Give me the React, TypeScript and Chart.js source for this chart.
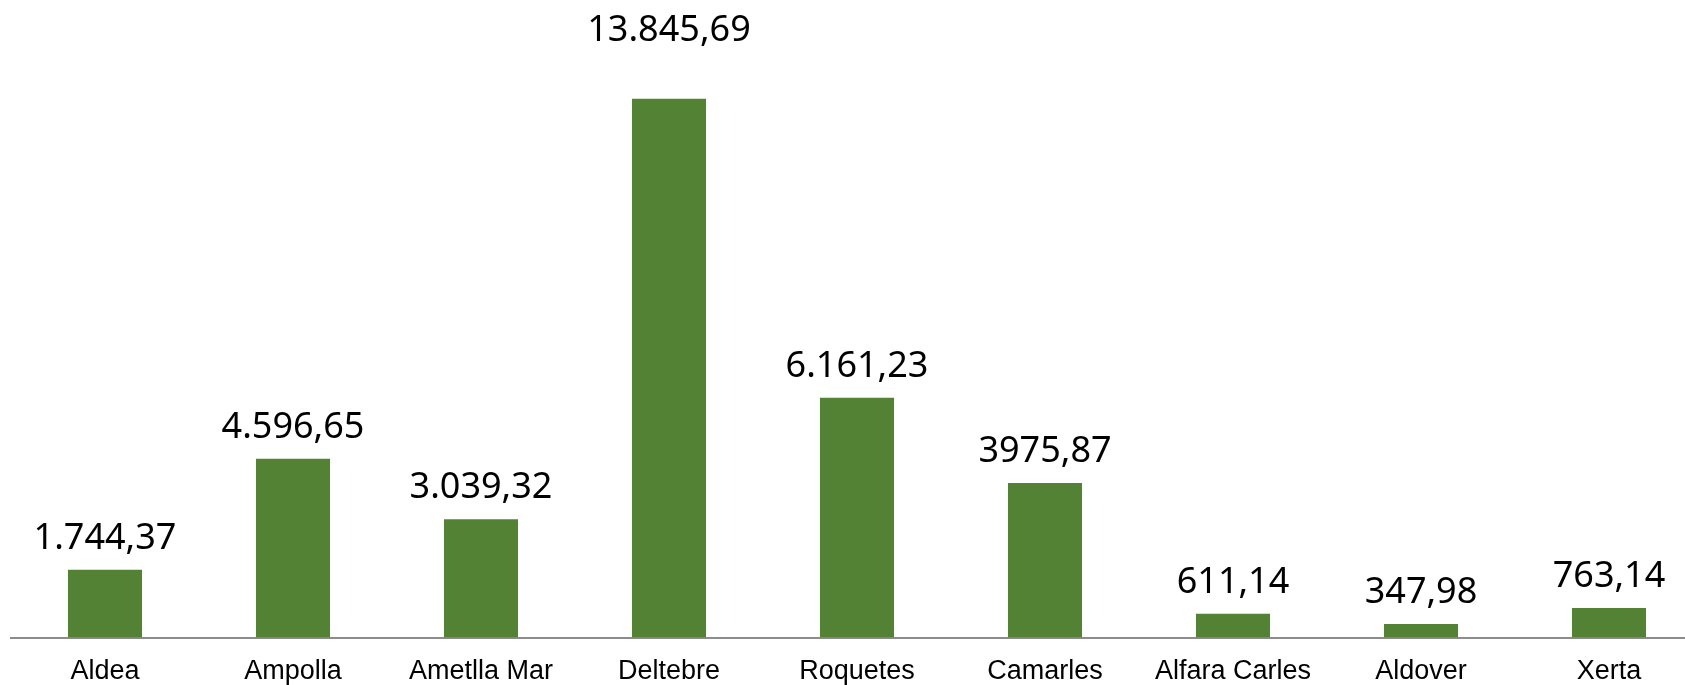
import React, { useEffect, useRef } from "react";
import { Chart, registerables } from "chart.js";

Chart.register(...registerables);

const categories = ["Aldea", "Ampolla", "Ametlla Mar", "Deltebre", "Roquetes", "Camarles", "Alfara Carles", "Aldover", "Xerta"];
const values = [1744.37, 4596.65, 3039.32, 13845.69, 6161.23, 3975.87, 611.14, 347.98, 763.14];
const valueLabels = ["1.744,37", "4.596,65", "3.039,32", "13.845,69", "6.161,23", "3975,87", "611,14", "347,98", "763,14"];

const labelPlugin = {
  id: "valueLabels",
  afterDatasetsDraw(chart: any, _args: any, opts: any) {
    const ctx = chart.ctx;
    const meta = chart.getDatasetMeta(0);
    ctx.save();
    ctx.font = "36px 'Noto Sans'";
    ctx.fillStyle = "#000";
    ctx.textAlign = "center";
    ctx.textBaseline = "alphabetic";
    meta.data.forEach((bar: any, i: number) => {
      const lift = (opts.extraLift && opts.extraLift[i]) || 0;
      ctx.fillText(valueLabels[i], bar.x, bar.y - 21 - lift);
    });
    ctx.restore();
  },
};

export default function App() {
  const ref = useRef<HTMLCanvasElement>(null);
  useEffect(() => {
    document.body.style.margin = "0";
    document.body.style.overflow = "hidden";
    const chart = new Chart(ref.current!, {
      type: "bar",
      data: {
        labels: categories,
        datasets: [
          {
            data: values,
            backgroundColor: "#548235",
            barPercentage: 0.394,
            categoryPercentage: 1,
          },
        ],
      },
      options: {
        animation: false,
        responsive: false,
        layout: { padding: { left: 11, right: 0, top: 15, bottom: 0 } },
        plugins: {
          legend: { display: false },
          tooltip: { enabled: false },
          valueLabels: { extraLift: { 3: 37 } },
        } as any,
        scales: {
          x: {
            grid: { display: false },
            border: { display: true, color: "#8c8c8c", width: 2 },
            ticks: {
              color: "#000",
              font: { family: "'Liberation Sans', Arial", size: 27 },
              padding: 10,
              maxRotation: 0,
              autoSkip: false,
            },
          },
          y: {
            display: false,
            min: 0,
            max: 16000,
          },
        },
      },
      plugins: [labelPlugin],
    });
    return () => chart.destroy();
  }, []);
  return (
    <div style={{ width: 1685, height: 685, overflow: "hidden", background: "#fff" }}>
      <canvas ref={ref} width={1703} height={698} style={{ display: "block" }} />
    </div>
  );
}
